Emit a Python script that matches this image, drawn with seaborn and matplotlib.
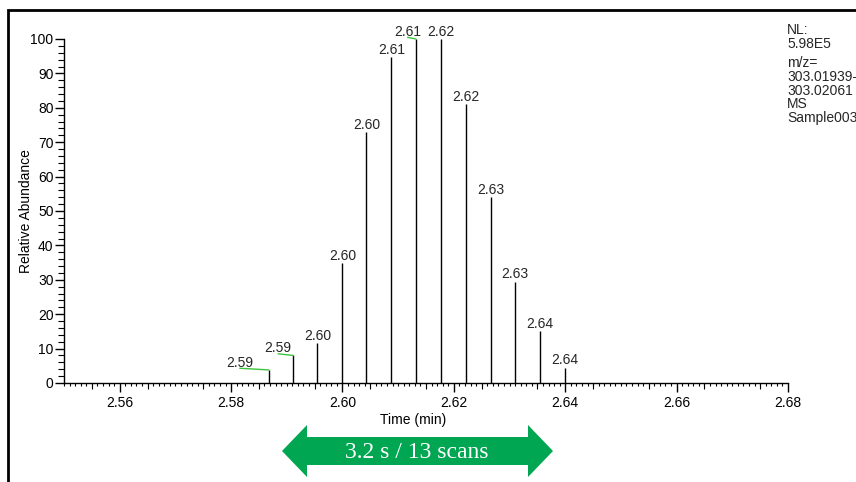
import numpy as np
import matplotlib
matplotlib.use("Agg")
import matplotlib.pyplot as plt
from matplotlib.ticker import MultipleLocator
from matplotlib.patches import Polygon, Rectangle
import seaborn as sns

sns.set_style("ticks")
plt.rcParams['font.family'] = ['Liberation Sans', 'DejaVu Sans']

# scan retention times (min) and relative abundance (%)
times = [2.5868, 2.5912, 2.5955, 2.6000, 2.6043, 2.6088, 2.6132,
         2.6177, 2.6222, 2.6266, 2.6310, 2.6354, 2.6400]
abundance = [3.8, 8.0, 11.5, 35.0, 73.0, 94.8, 100.0,
             100.0, 81.0, 54.0, 29.5, 15.0, 4.5]
info_lines = ["NL:", "5.98E5", "m/z=", "303.01939-", "303.02061", "MS", "Sample003"]
arrow_text = "3.2 s / 13 scans"

# label x offsets in points - most labels sit straight above the stick
label_dx = [-21, -11, 0, 0, 0, 0, -6, 0, 0, 0, 0, 0, 0]

W, H = 856, 482
fig = plt.figure(figsize=(W / 100, H / 100), dpi=100)
ax = fig.add_axes([64 / W, 1 - 383 / H, (788 - 64) / W, (383 - 39) / H])

ax.vlines(times, 0, abundance, color="black", lw=1)

for t, a, dx in zip(times, abundance, label_dx):
    ax.annotate(f"{t:.2f}", xy=(t, a), xytext=(dx, 2.2), textcoords="offset points",
                ha="center", va="baseline", fontsize=10, annotation_clip=False)
    if dx != 0:
        # green leader from label to stick top
        ax.annotate("", xy=(t, a), xytext=(dx, 1.2), textcoords="offset points",
                    annotation_clip=False,
                    arrowprops=dict(arrowstyle="-", color="#3cc43c", lw=1,
                                    shrinkA=0, shrinkB=0))

ax.set_xlim(2.55, 2.68)
ax.set_ylim(0, 100)
ax.xaxis.set_minor_locator(MultipleLocator(0.001))
ax.yaxis.set_major_locator(MultipleLocator(10))
ax.yaxis.set_minor_locator(MultipleLocator(2))
xt = np.arange(2.56, 2.681, 0.02)
ax.set_xticks(xt)
ax.set_xticklabels([f"{v:.2f}" for v in xt])
ax.tick_params(axis="both", which="major", length=6.5, width=1, color="black",
               labelsize=10, labelcolor="black")
ax.tick_params(axis="x", which="major", pad=3)
ax.tick_params(axis="y", which="major", pad=1)
ax.tick_params(axis="x", which="minor", length=2.5, width=0.8, color="black")
ax.tick_params(axis="y", which="minor", length=4, width=0.8, color="black")
sec = ax.secondary_xaxis("bottom")
sec.set_xticks(np.arange(2.555, 2.681, 0.01))
sec.tick_params(length=4, width=0.8, color="black", labelbottom=False)
sec.spines["bottom"].set_visible(False)

sns.despine(ax=ax)
for s in ["left", "bottom"]:
    ax.spines[s].set_linewidth(1)
    ax.spines[s].set_color("black")

ax.set_xlabel("Time (min)", fontsize=10, color="black")
ax.xaxis.set_label_coords((413 - 64) / (788 - 64), -(413 - 383) / (383 - 39))
ax.set_ylabel("Relative Abundance", fontsize=10, color="black")
ax.yaxis.set_label_coords(-(64 - 33) / (788 - 64), 0.5)

# outer frame (runs off the right and bottom edges)
fig.add_artist(Rectangle((8 / W, -0.1), 1.2, 1 - 10 / H + 0.1, transform=fig.transFigure,
                         fill=False, edgecolor="black", lw=2))

# info text block top right
ys = [30, 44, 63, 77, 91, 104, 118]
for txt, y in zip(info_lines, ys):
    fig.text(787 / W, 1 - y / H, txt, fontsize=10, va="center", ha="left")

# green double arrow
pts = [(282, 451), (307, 425), (307, 437), (528, 437), (528, 425), (553, 451),
       (528, 477), (528, 465), (307, 465), (307, 477)]
fig.add_artist(Polygon([(x / W, 1 - y / H) for x, y in pts], closed=True,
                       transform=fig.transFigure, facecolor="#00a651", edgecolor="none"))
fig.text(417 / W, 1 - 452 / H, arrow_text, color="white", fontsize=17,
         family="Liberation Serif", ha="center", va="center")

fig.savefig("out.png", dpi=100)
